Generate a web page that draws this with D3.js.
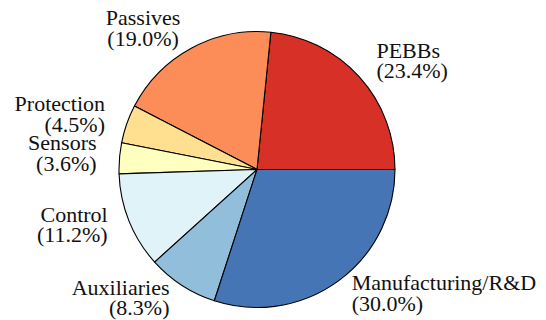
<!DOCTYPE html>
<html>
<head>
<meta charset="utf-8">
<script src="https://cdn.jsdelivr.net/npm/d3@7"></script>
<style>
  html, body { margin: 0; padding: 0; background: #ffffff; }
  svg { display: block; }
</style>
</head>
<body>
<svg id="chart" width="546" height="320"></svg>
<script>
// Cost breakdown shares (percent), listed counter-clockwise from 3 o'clock
const categories = ["PEBBs", "Passives", "Protection", "Sensors", "Control", "Auxiliaries", "Manufacturing/R&D"];
const shares = [23.4, 19.0, 4.5, 3.6, 11.2, 8.3, 30.0];
const colors = ["#d73027", "#fc8d59", "#fee090", "#ffffbf", "#e0f3f8", "#91bfdb", "#4575b4"];

const svg = d3.select("#chart");
const cx = 257, cy = 169.5;
const radius = 138;
const labelRadiusX = 161;   // horizontal reach of label anchors
const labelRadiusY = 157;   // vertical reach of label anchors
const lineGap = 20.5;
const fontFamily = "'Liberation Serif', 'Times New Roman', serif";

const data = categories.map((name, i) => ({ name, value: shares[i] }));

// Start at 3 o'clock and run counter-clockwise
const pie = d3.pie()
  .value(d => d.value)
  .sort(null)
  .startAngle(Math.PI / 2)
  .endAngle(Math.PI / 2 - 2 * Math.PI);

const arcs = pie(data);
const arc = d3.arc().innerRadius(0).outerRadius(radius);
const color = d3.scaleOrdinal().domain(categories).range(colors);
const fmt = d3.format(".1f");

const g = svg.append("g").attr("transform", `translate(${cx},${cy})`);

g.selectAll("path.slice")
  .data(arcs)
  .join("path")
  .attr("class", "slice")
  .attr("d", arc)
  .attr("fill", d => color(d.data.name))
  .attr("stroke", "#000")
  .attr("stroke-width", 1.1)
  .attr("stroke-linejoin", "round");

// Labels: the side of each two-line block that faces the pie sits on the slice's mid-angle
const labels = g.selectAll("g.label")
  .data(arcs)
  .join("g")
  .attr("class", "label")
  .attr("font-family", fontFamily)
  .attr("font-size", 22)
  .attr("fill", "#111");

labels.each(function (d) {
  const mid = (d.startAngle + d.endAngle) / 2;
  const sx = Math.sin(mid), sy = -Math.cos(mid);
  const ax = labelRadiusX * sx;
  const ay = labelRadiusY * sy;
  const node = d3.select(this);
  const lines = [d.data.name, `(${fmt(d.data.value)}%)`];
  const texts = node.selectAll("text")
    .data(lines)
    .join("text")
    .text(t => t)
    .attr("y", (t, i) => ay - 6.3 + i * lineGap);
  const w = d3.max(texts.nodes(), n => n.getComputedTextLength());
  const left = sx >= 0 ? ax : ax - w;
  const right = left + w;
  let mode;
  if (sx > 0.5) mode = "left";
  else if (sx < -0.5) mode = "right";
  else mode = "center";
  texts
    .attr("text-anchor", mode === "left" ? "start" : mode === "right" ? "end" : "middle")
    .attr("x", mode === "left" ? left : mode === "right" ? right : (left + right) / 2);
});
</script>
</body>
</html>
